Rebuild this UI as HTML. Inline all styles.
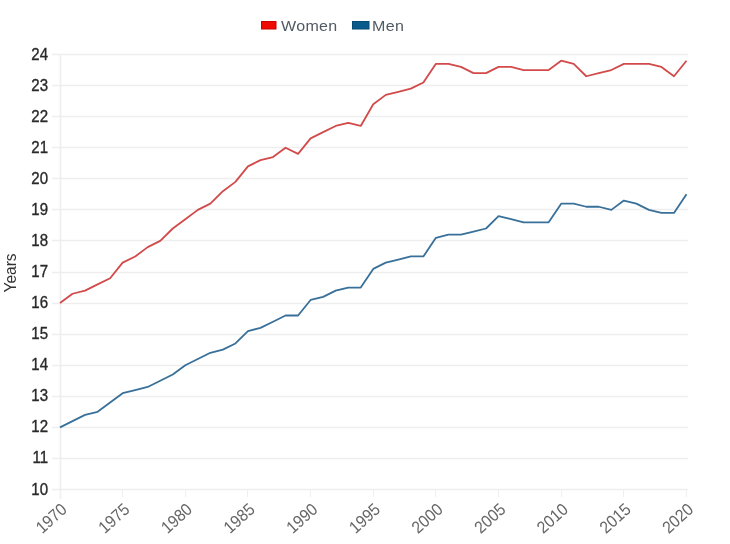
<!DOCTYPE html>
<html><head><meta charset="utf-8"><style>
html,body{margin:0;padding:0;background:#fff;}
body{width:730px;height:544px;overflow:hidden;}
svg{display:block;filter:blur(0.35px);font-family:"Liberation Sans",sans-serif;}
</style></head><body>
<svg width="730" height="544" viewBox="0 0 730 544">
<rect width="730" height="544" fill="#fff"/>
<g stroke="#eeeeee" stroke-width="1.6" fill="none"><line x1="52" y1="489.5" x2="688" y2="489.5"/><line x1="52" y1="458.5" x2="688" y2="458.5"/><line x1="52" y1="427.5" x2="688" y2="427.5"/><line x1="52" y1="396.5" x2="688" y2="396.5"/><line x1="52" y1="365.5" x2="688" y2="365.5"/><line x1="52" y1="334.5" x2="688" y2="334.5"/><line x1="52" y1="303.5" x2="688" y2="303.5"/><line x1="52" y1="272.5" x2="688" y2="272.5"/><line x1="52" y1="240.5" x2="688" y2="240.5"/><line x1="52" y1="209.5" x2="688" y2="209.5"/><line x1="52" y1="178.5" x2="688" y2="178.5"/><line x1="52" y1="147.5" x2="688" y2="147.5"/><line x1="52" y1="116.5" x2="688" y2="116.5"/><line x1="52" y1="85.5" x2="688" y2="85.5"/><line x1="52" y1="54.5" x2="688" y2="54.5"/></g>
<line x1="60.5" y1="54" x2="60.5" y2="499" stroke="#eeeeee" stroke-width="1.6"/>
<g stroke="#f0f0f0" stroke-width="1"><line x1="60.5" y1="490" x2="60.5" y2="497"/><line x1="122.5" y1="490" x2="122.5" y2="497"/><line x1="185.5" y1="490" x2="185.5" y2="497"/><line x1="247.5" y1="490" x2="247.5" y2="497"/><line x1="310.5" y1="490" x2="310.5" y2="497"/><line x1="373.5" y1="490" x2="373.5" y2="497"/><line x1="435.5" y1="490" x2="435.5" y2="497"/><line x1="498.5" y1="490" x2="498.5" y2="497"/><line x1="561.5" y1="490" x2="561.5" y2="497"/><line x1="623.5" y1="490" x2="623.5" y2="497"/><line x1="686.5" y1="490" x2="686.5" y2="497"/></g>
<g font-size="16" fill="#2a2a2a" stroke="#2a2a2a" stroke-width="0.35" text-anchor="end"><text transform="translate(48,494.5) scale(0.94,1)">10</text><text transform="translate(48,463.4) scale(0.94,1)">11</text><text transform="translate(48,432.4) scale(0.94,1)">12</text><text transform="translate(48,401.3) scale(0.94,1)">13</text><text transform="translate(48,370.2) scale(0.94,1)">14</text><text transform="translate(48,339.1) scale(0.94,1)">15</text><text transform="translate(48,308.1) scale(0.94,1)">16</text><text transform="translate(48,277.0) scale(0.94,1)">17</text><text transform="translate(48,245.9) scale(0.94,1)">18</text><text transform="translate(48,214.9) scale(0.94,1)">19</text><text transform="translate(48,183.8) scale(0.94,1)">20</text><text transform="translate(48,152.7) scale(0.94,1)">21</text><text transform="translate(48,121.6) scale(0.94,1)">22</text><text transform="translate(48,90.6) scale(0.94,1)">23</text><text transform="translate(48,59.5) scale(0.94,1)">24</text></g>
<g font-size="16" fill="#666" text-anchor="end"><text transform="translate(64.5,507) rotate(-42) scale(0.98,1.06)" x="0" y="5">1970</text><text transform="translate(127.2,507) rotate(-42) scale(0.98,1.06)" x="0" y="5">1975</text><text transform="translate(189.8,507) rotate(-42) scale(0.98,1.06)" x="0" y="5">1980</text><text transform="translate(252.4,507) rotate(-42) scale(0.98,1.06)" x="0" y="5">1985</text><text transform="translate(315.1,507) rotate(-42) scale(0.98,1.06)" x="0" y="5">1990</text><text transform="translate(377.8,507) rotate(-42) scale(0.98,1.06)" x="0" y="5">1995</text><text transform="translate(440.4,507) rotate(-42) scale(0.98,1.06)" x="0" y="5">2000</text><text transform="translate(503.1,507) rotate(-42) scale(0.98,1.06)" x="0" y="5">2005</text><text transform="translate(565.7,507) rotate(-42) scale(0.98,1.06)" x="0" y="5">2010</text><text transform="translate(628.4,507) rotate(-42) scale(0.98,1.06)" x="0" y="5">2015</text><text transform="translate(691.0,507) rotate(-42) scale(0.98,1.06)" x="0" y="5">2020</text></g>
<text transform="translate(16,273) rotate(-90) scale(0.97,1)" font-size="16" fill="#333" text-anchor="middle">Years</text>
<rect x="261.5" y="21.5" width="14.5" height="7.5" fill="#ee0a00" stroke="#c80000" stroke-width="1"/>
<text transform="translate(281,31) scale(1.07,1)" font-size="15" fill="#505a64" letter-spacing="0.3">Women</text>
<rect x="352.5" y="21.5" width="16.5" height="7.5" fill="#0a5a8c" stroke="#064a74" stroke-width="1"/>
<text transform="translate(372,31) scale(1.07,1)" font-size="15" fill="#505a64" letter-spacing="0.3">Men</text>
<path d="M60.00,303.07 L72.53,293.75 L85.06,290.64 L97.59,284.43 L110.12,278.21 L122.65,262.68 L135.18,256.46 L147.71,247.14 L160.24,240.93 L172.77,228.50 L185.30,219.18 L197.83,209.86 L210.36,203.64 L222.89,191.21 L235.42,181.89 L247.95,166.36 L260.48,160.14 L273.01,157.04 L285.54,147.71 L298.07,153.93 L310.60,138.39 L323.13,132.18 L335.66,125.96 L348.19,122.86 L360.72,125.96 L373.25,104.21 L385.78,94.89 L398.31,91.79 L410.84,88.68 L423.37,82.46 L435.90,63.82 L448.43,63.82 L460.96,66.93 L473.49,73.14 L486.02,73.14 L498.55,66.93 L511.08,66.93 L523.61,70.04 L536.14,70.04 L548.67,70.04 L561.20,60.71 L573.73,63.82 L586.26,76.25 L598.79,73.14 L611.32,70.04 L623.85,63.82 L636.38,63.82 L648.91,63.82 L661.44,66.93 L673.97,76.25 L686.50,60.71" fill="none" stroke="#d24a4a" stroke-width="1.8" stroke-linejoin="round"/>
<path d="M60.00,427.36 L72.53,421.14 L85.06,414.93 L97.59,411.82 L110.12,402.50 L122.65,393.18 L135.18,390.07 L147.71,386.96 L160.24,380.75 L172.77,374.54 L185.30,365.21 L197.83,359.00 L210.36,352.79 L222.89,349.68 L235.42,343.46 L247.95,331.04 L260.48,327.93 L273.01,321.71 L285.54,315.50 L298.07,315.50 L310.60,299.96 L323.13,296.86 L335.66,290.64 L348.19,287.54 L360.72,287.54 L373.25,268.89 L385.78,262.68 L398.31,259.57 L410.84,256.46 L423.37,256.46 L435.90,237.82 L448.43,234.71 L460.96,234.71 L473.49,231.61 L486.02,228.50 L498.55,216.07 L511.08,219.18 L523.61,222.29 L536.14,222.29 L548.67,222.29 L561.20,203.64 L573.73,203.64 L586.26,206.75 L598.79,206.75 L611.32,209.86 L623.85,200.54 L636.38,203.64 L648.91,209.86 L661.44,212.96 L673.97,212.96 L686.50,194.32" fill="none" stroke="#38709a" stroke-width="1.8" stroke-linejoin="round"/>
</svg>
</body></html>
